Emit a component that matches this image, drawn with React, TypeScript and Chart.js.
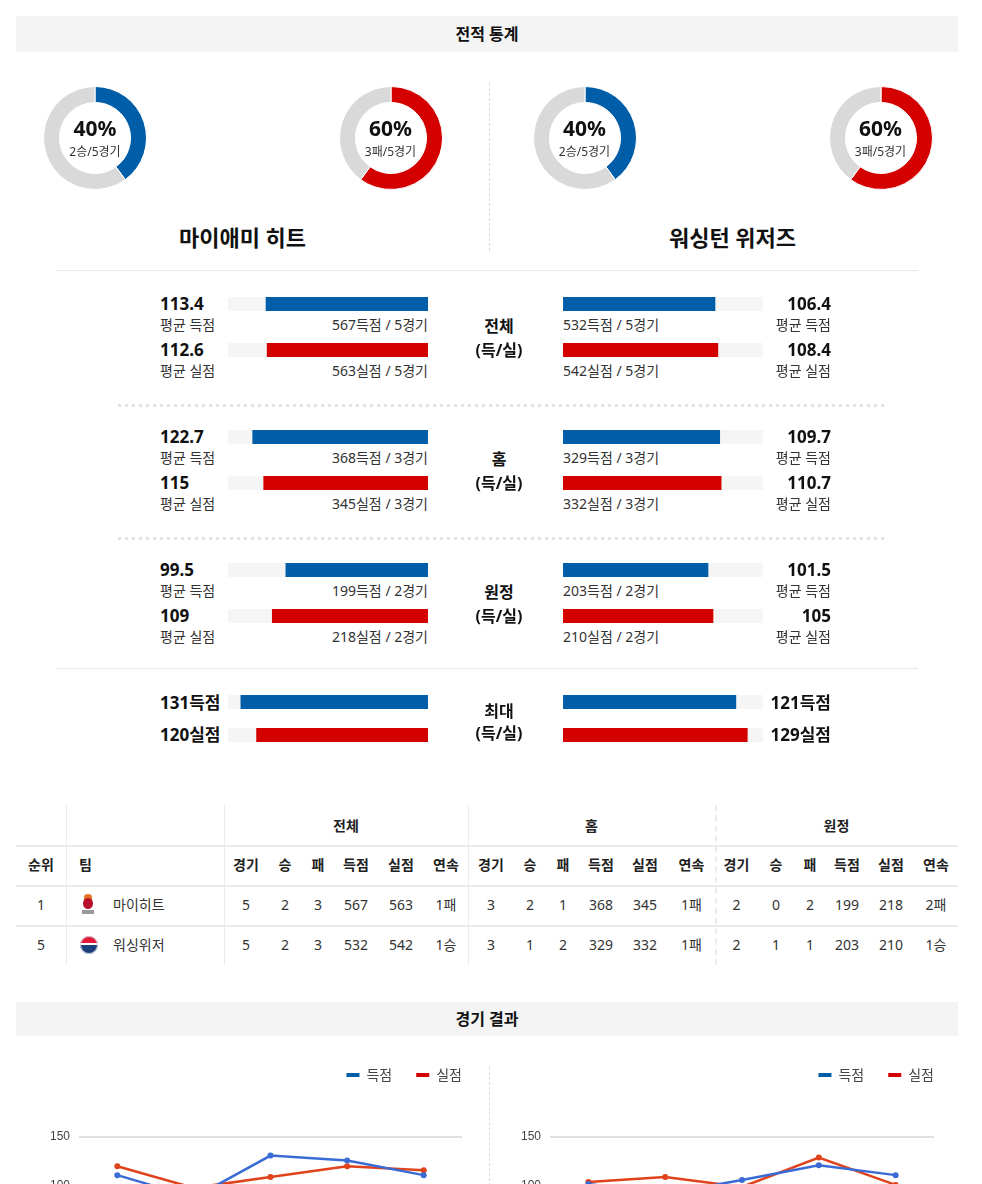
import React, { useEffect, useRef } from 'react';
import { Chart, registerables } from 'chart.js';

Chart.register(...registerables);

const FONT = "'Noto Sans', 'Noto Sans CJK KR', sans-serif";

// ---------------- data ----------------
const TEAM_NAMES = ['마이애미 히트', '워싱턴 위저즈'];
const WINS = [2, 2];
const LOSSES = [3, 3];
const GAMES = [5, 5];

const SPLITS = ['전체', '홈', '원정'];
const MIA_GAMES = [5, 3, 2];
const MIA_POINTS_FOR = [567, 368, 199];
const MIA_POINTS_AGAINST = [563, 345, 218];
const MIA_AVG_FOR = [113.4, 122.7, 99.5];
const MIA_AVG_AGAINST = [112.6, 115, 109];
const WAS_GAMES = [5, 3, 2];
const WAS_POINTS_FOR = [532, 329, 203];
const WAS_POINTS_AGAINST = [542, 332, 210];
const WAS_AVG_FOR = [106.4, 109.7, 101.5];
const WAS_AVG_AGAINST = [108.4, 110.7, 105];
const MAX_FOR = [131, 121];
const MAX_AGAINST = [120, 129];
const BAR_SCALE_MAX = 140;

const TABLE_GROUPS = ['전체', '홈', '원정'];
const TABLE_COLUMNS = ['경기', '승', '패', '득점', '실점', '연속'];
const TABLE_RANKS = ['1', '5'];
const TABLE_TEAMS = ['마이히트', '워싱위저'];
const MIA_ROW = ['5', '2', '3', '567', '563', '1패', '3', '2', '1', '368', '345', '1패', '2', '0', '2', '199', '218', '2패'];
const WAS_ROW = ['5', '2', '3', '532', '542', '1승', '3', '1', '2', '329', '332', '1패', '2', '1', '1', '203', '210', '1승'];

const GAME_LABELS = ['1경기', '2경기', '3경기', '4경기', '5경기'];
const MIA_SCORED = [111, 88, 131, 126, 111];
const MIA_ALLOWED = [120, 98, 109, 120, 116];
const WAS_SCORED = [102, 92, 106, 121, 111];
const WAS_ALLOWED = [104, 109, 99, 129, 101];
const LINE_Y_MIN = 0;
const LINE_Y_MAX = 200;
const LINE_Y_STEP = 50;
const LINE_Y_LAST_TICK = 150;
const SERIES_NAMES = ['득점', '실점'];

// ---------------- styles ----------------
const BLUE = '#005da8';
const RED = '#d40000';
const TRACK = '#f5f5f5';
const DONUT_GRAY = '#d9d9d9';
const LINE_BLUE = '#3a6bd4';
const LINE_RED = '#e0421c';

const ORIGIN = 16;

function box(x: number, y: number, w: number, h: number): React.CSSProperties {
  return { position: 'absolute', left: x - ORIGIN, top: y - ORIGIN, width: w, height: h };
}

function Txt({ x, y, children, size = 14, bold = false, align = 'left', color = '#333', lh = 20 }: any) {
  const W = 400;
  const left = align === 'left' ? x : align === 'right' ? x - W : x - W / 2;
  return (
    <div
      style={{
        position: 'absolute',
        left: left - ORIGIN,
        top: y - ORIGIN - lh / 2,
        width: W,
        height: lh,
        lineHeight: lh + 'px',
        fontSize: size,
        fontWeight: bold ? 700 : 400,
        textAlign: align,
        color,
        whiteSpace: 'nowrap',
      }}
    >
      {children}
    </div>
  );
}

function fmt(v: number) {
  return String(Math.round(v * 10) / 10);
}

function useChart(build: (c: HTMLCanvasElement) => Chart) {
  const ref = useRef<HTMLCanvasElement>(null);
  useEffect(() => {
    if (!ref.current) return;
    const chart = build(ref.current);
    return () => chart.destroy();
  }, []);
  return ref;
}

function Donut({ cx, cy, value, total, color, pctText, sub }: any) {
  const size = 104;
  const ref = useChart(
    (c) =>
      new Chart(c, {
        type: 'doughnut',
        data: {
          labels: ['a', 'b'],
          datasets: [
            {
              data: [value, total - value],
              backgroundColor: [color, DONUT_GRAY],
              borderColor: '#ffffff',
              borderWidth: 1,
            },
          ],
        },
        options: {
          animation: false,
          responsive: true,
          maintainAspectRatio: false,
          cutout: '69%',
          events: [],
          plugins: { legend: { display: false }, tooltip: { enabled: false } },
        },
      })
  );
  return (
    <>
      <div style={box(cx - size / 2, cy - size / 2, size, size)}>
        <canvas ref={ref} style={{ display: 'block' }} />
      </div>
      <Txt x={cx} y={cy - 9.5} size={21} bold align="center" color="#111" lh={20}>
        {pctText}
      </Txt>
      <Txt x={cx} y={cy + 14.5} size={12} align="center" color="#333" lh={14}>
        {sub}
      </Txt>
    </>
  );
}

function HBar({ x, y, value, color, reverse }: any) {
  const ref = useChart(
    (c) =>
      new Chart(c, {
        type: 'bar',
        data: {
          labels: [''],
          datasets: [
            {
              data: [value],
              backgroundColor: color,
              grouped: false,
              order: 1,
              barPercentage: 1,
              categoryPercentage: 1,
            } as any,
            {
              data: [BAR_SCALE_MAX],
              backgroundColor: TRACK,
              grouped: false,
              order: 2,
              barPercentage: 1,
              categoryPercentage: 1,
            } as any,
          ],
        },
        options: {
          indexAxis: 'y',
          animation: false,
          responsive: true,
          maintainAspectRatio: false,
          events: [],
          layout: { padding: 0 },
          scales: {
            x: { display: false, min: 0, max: BAR_SCALE_MAX, reverse: !!reverse },
            y: { display: false },
          },
          plugins: { legend: { display: false }, tooltip: { enabled: false } },
        },
      })
  );
  return (
    <div style={box(x, y, 200, 14)}>
      <canvas ref={ref} style={{ display: 'block' }} />
    </div>
  );
}

function LineChart({ x, y, w, h, scored, allowed, padL, padR }: any) {
  const ref = useChart(
    (c) =>
      new Chart(c, {
        type: 'line',
        data: {
          labels: GAME_LABELS,
          datasets: [
            {
              label: SERIES_NAMES[0],
              data: scored,
              borderColor: LINE_BLUE,
              backgroundColor: LINE_BLUE,
              borderWidth: 2.5,
              pointRadius: 3,
              pointBorderWidth: 0,
              pointBackgroundColor: LINE_BLUE,
              tension: 0,
              clip: false,
            } as any,
            {
              label: SERIES_NAMES[1],
              data: allowed,
              borderColor: LINE_RED,
              backgroundColor: LINE_RED,
              borderWidth: 2.5,
              pointRadius: 3,
              pointBorderWidth: 0,
              pointBackgroundColor: LINE_RED,
              tension: 0,
              clip: false,
            } as any,
          ],
        },
        options: {
          animation: false,
          responsive: true,
          maintainAspectRatio: false,
          events: [],
          layout: { padding: { left: padL, right: padR, top: 0, bottom: 0 } },
          scales: {
            x: { display: false, offset: true, grid: { display: false } },
            y: {
              min: LINE_Y_MIN,
              max: LINE_Y_MAX,
              afterBuildTicks: (ax: any) => {
                ax.ticks = ax.ticks.filter((t: any) => t.value <= LINE_Y_LAST_TICK);
              },
              ticks: {
                stepSize: LINE_Y_STEP,
                color: '#444',
                padding: 9,
                font: { family: "'Liberation Sans', Arial, sans-serif", size: 12 },
              },
              grid: { color: '#e0e0e0', lineWidth: 2, drawTicks: false },
              border: { display: false },
            },
          },
          plugins: {
            tooltip: { enabled: false },
            legend: {
              position: 'top',
              align: 'end',
              labels: {
                boxWidth: 13,
                boxHeight: 4,
                padding: 24,
                color: '#444',
                font: { family: "'Noto Sans CJK KR', sans-serif", size: 14 },
                generateLabels: (chart: any) => {
                  const items = (Chart.defaults.plugins.legend.labels as any).generateLabels(chart);
                  const cols = [BLUE, RED];
                  return items.map((it: any, i: number) => ({
                    ...it,
                    fillStyle: cols[i],
                    strokeStyle: cols[i],
                    lineWidth: 0,
                  }));
                },
              },
            },
          },
        },
        plugins: [
          {
            id: 'legendShift',
            afterLayout(chart: any) {
              const lg = chart.legend;
              if (lg) {
                lg.left += 24;
                lg.right += 24;
                lg.top += 4;
                lg.bottom += 4;
              }
            },
          },
        ],
      })
  );
  return (
    <div style={box(x, y, w, h)}>
      <canvas ref={ref} style={{ display: 'block' }} />
    </div>
  );
}

function HeatLogo({ x, y }: any) {
  return (
    <div style={box(x, y, 14, 22)}>
      <div style={{ position: 'absolute', left: 3, top: 0, width: 8, height: 6, borderRadius: '50% 50% 0 0', background: '#e8742a' }} />
      <div style={{ position: 'absolute', left: 2, top: 4, width: 10, height: 11, borderRadius: '50%', background: '#b8102a' }} />
      <div style={{ position: 'absolute', left: 1, top: 16, width: 12, height: 4, background: '#9a9a9a' }} />
    </div>
  );
}

function WizardsLogo({ x, y }: any) {
  return (
    <div
      style={{
        ...box(x, y, 18, 18),
        borderRadius: '50%',
        background: 'linear-gradient(#e31837 0 38%, #ffffff 38% 52%, #1b3f7a 52% 100%)',
        boxShadow: '0 0 0 1px #cfd6e4 inset',
      }}
    />
  );
}

const G_WIDTHS = [44, 34, 32, 44, 46, 44, 46, 32, 34, 42, 46, 47, 43, 36, 32, 42, 46, 44];

function StatsTable() {
  const xs: number[] = [];
  let acc = 224;
  G_WIDTHS.forEach((w) => {
    xs.push(acc + w / 2);
    acc += w;
  });
  const groupCenters = [224 + 244 / 2, 468 + 247 / 2, 715 + 243 / 2];
  const rows = [MIA_ROW, WAS_ROW];
  const hLine = (yy: number) => <div key={'h' + yy} style={{ ...box(16, yy, 942, 2), background: '#ebebeb' }} />;
  const vLine = (xx: number, dashed = false) => (
    <div
      key={'v' + xx}
      style={{
        ...box(xx, 805, 1, 160),
        borderLeft: dashed ? '2px dashed #ececec' : '1px solid #ececec',
      }}
    />
  );
  return (
    <>
      {hLine(845)}
      {hLine(885)}
      {hLine(925)}
      {vLine(66)}
      {vLine(224)}
      {vLine(468)}
      {vLine(715, true)}
      {TABLE_GROUPS.map((g, i) => (
        <Txt key={'g' + i} x={groupCenters[i]} y={826} bold align="center" color="#222">
          {g}
        </Txt>
      ))}
      <Txt x={41} y={865} bold align="center" color="#222">순위</Txt>
      <Txt x={79} y={865} bold color="#222">팀</Txt>
      {xs.map((cx, i) => (
        <Txt key={'c' + i} x={cx} y={865} bold align="center" color="#222">
          {TABLE_COLUMNS[i % TABLE_COLUMNS.length]}
        </Txt>
      ))}
      {rows.map((row, r) => {
        const cy = 905 + r * 40;
        return (
          <React.Fragment key={'r' + r}>
            <Txt x={41} y={cy} align="center">{TABLE_RANKS[r]}</Txt>
            {r === 0 ? <HeatLogo x={81} y={cy - 11} /> : <WizardsLogo x={80} y={cy - 9} />}
            <Txt x={113} y={cy}>{TABLE_TEAMS[r]}</Txt>
            {row.map((v, i) => (
              <Txt key={'d' + i} x={xs[i]} y={cy} align="center">
                {v}
              </Txt>
            ))}
          </React.Fragment>
        );
      })}
    </>
  );
}

function SplitSection({ k }: any) {
  const B = 297 + 133 * k;
  return (
    <>
      <Txt x={160} y={B + 6.7} size={17} bold color="#111">{fmt(MIA_AVG_FOR[k])}</Txt>
      <Txt x={160} y={B + 28}>평균 득점</Txt>
      <HBar x={228} y={B} value={MIA_AVG_FOR[k]} color={BLUE} reverse />
      <Txt x={428} y={B + 28} align="right">{`${MIA_POINTS_FOR[k]}득점 / ${MIA_GAMES[k]}경기`}</Txt>
      <Txt x={160} y={B + 53} size={17} bold color="#111">{fmt(MIA_AVG_AGAINST[k])}</Txt>
      <Txt x={160} y={B + 73.5}>평균 실점</Txt>
      <HBar x={228} y={B + 46} value={MIA_AVG_AGAINST[k]} color={RED} reverse />
      <Txt x={428} y={B + 73.5} align="right">{`${MIA_POINTS_AGAINST[k]}실점 / ${MIA_GAMES[k]}경기`}</Txt>

      <Txt x={499} y={B + 29} size={16} bold align="center" color="#111">{SPLITS[k]}</Txt>
      <Txt x={499} y={B + 53} size={16} bold align="center" color="#111">(득/실)</Txt>

      <HBar x={563} y={B} value={WAS_AVG_FOR[k]} color={BLUE} />
      <Txt x={563} y={B + 28}>{`${WAS_POINTS_FOR[k]}득점 / ${WAS_GAMES[k]}경기`}</Txt>
      <Txt x={831} y={B + 6.7} size={17} bold align="right" color="#111">{fmt(WAS_AVG_FOR[k])}</Txt>
      <Txt x={831} y={B + 28} align="right">평균 득점</Txt>
      <HBar x={563} y={B + 46} value={WAS_AVG_AGAINST[k]} color={RED} />
      <Txt x={563} y={B + 73.5}>{`${WAS_POINTS_AGAINST[k]}실점 / ${WAS_GAMES[k]}경기`}</Txt>
      <Txt x={831} y={B + 53} size={17} bold align="right" color="#111">{fmt(WAS_AVG_AGAINST[k])}</Txt>
      <Txt x={831} y={B + 73.5} align="right">평균 실점</Txt>
      {k < 2 && (
        <div
          style={{
            ...box(118, B + 107, 768, 3),
            backgroundImage: 'repeating-linear-gradient(to right, #e2e2e2 0 3px, transparent 3px 7px)',
          }}
        />
      )}
    </>
  );
}

export default function App() {
  const donutCenters = [95, 390.5, 584.5, 880.5];
  return (
    <div style={{ padding: 8, fontFamily: FONT }}>
      <div style={{ position: 'relative', width: 942, height: 1300 }}>
        {/* title */}
        <div style={{ ...box(16, 16, 942, 36), background: '#f4f4f4' }} />
        <Txt x={487} y={34} size={16} bold align="center" color="#111">전적 통계</Txt>

        {/* donuts */}
        {[0, 1].map((t) => (
          <React.Fragment key={'d' + t}>
            <Donut
              cx={donutCenters[t * 2]}
              cy={137.5}
              value={WINS[t]}
              total={GAMES[t]}
              color={BLUE}
              pctText={`${Math.round((WINS[t] / GAMES[t]) * 100)}%`}
              sub={`${WINS[t]}승/${GAMES[t]}경기`}
            />
            <Donut
              cx={donutCenters[t * 2 + 1]}
              cy={137.5}
              value={LOSSES[t]}
              total={GAMES[t]}
              color={RED}
              pctText={`${Math.round((LOSSES[t] / GAMES[t]) * 100)}%`}
              sub={`${LOSSES[t]}패/${GAMES[t]}경기`}
            />
          </React.Fragment>
        ))}
        <div style={{ ...box(489, 83, 1, 168), borderLeft: '1px dashed #dcdcdc' }} />
        <Txt x={242.5} y={237} size={22} bold align="center" color="#111" lh={26}>{TEAM_NAMES[0]}</Txt>
        <Txt x={732.5} y={237} size={22} bold align="center" color="#111" lh={26}>{TEAM_NAMES[1]}</Txt>

        {/* split stats */}
        <div style={{ ...box(56, 270, 862, 1), background: '#e8e8e8' }} />
        {[0, 1, 2].map((k) => (
          <SplitSection key={'s' + k} k={k} />
        ))}
        <div style={{ ...box(56, 668, 862, 1), background: '#e8e8e8' }} />

        {/* max */}
        <Txt x={160} y={702.5} size={17} bold color="#111">{`${MAX_FOR[0]}득점`}</Txt>
        <HBar x={228} y={695} value={MAX_FOR[0]} color={BLUE} reverse />
        <Txt x={160} y={735} size={17} bold color="#111">{`${MAX_AGAINST[0]}실점`}</Txt>
        <HBar x={228} y={728} value={MAX_AGAINST[0]} color={RED} reverse />
        <Txt x={499} y={711} size={16} bold align="center" color="#111">최대</Txt>
        <Txt x={499} y={733} size={16} bold align="center" color="#111">(득/실)</Txt>
        <HBar x={563} y={695} value={MAX_FOR[1]} color={BLUE} />
        <Txt x={831} y={702.5} size={17} bold align="right" color="#111">{`${MAX_FOR[1]}득점`}</Txt>
        <HBar x={563} y={728} value={MAX_AGAINST[1]} color={RED} />
        <Txt x={831} y={735} size={17} bold align="right" color="#111">{`${MAX_AGAINST[1]}실점`}</Txt>

        {/* table */}
        <StatsTable />

        {/* results */}
        <div style={{ ...box(16, 1002, 942, 34), background: '#f4f4f4' }} />
        <Txt x={487} y={1019} size={16} bold align="center" color="#111">경기 결과</Txt>
        <LineChart x={16} y={1040} w={473} h={260} scored={MIA_SCORED} allowed={MIA_ALLOWED} padL={25} padR={27} />
        <LineChart x={489} y={1040} w={469} h={260} scored={WAS_SCORED} allowed={WAS_ALLOWED} padL={23} padR={24} />
        <div style={{ ...box(489, 1067, 1, 230), borderLeft: '1px dashed #dcdcdc' }} />
      </div>
    </div>
  );
}
